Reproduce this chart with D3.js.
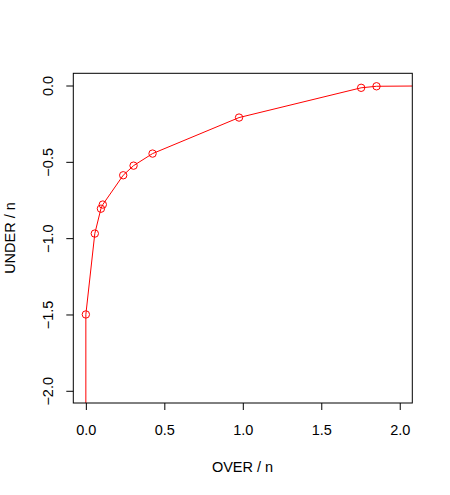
<!DOCTYPE html>
<html>
<head>
<meta charset="utf-8">
<script src="https://cdn.jsdelivr.net/npm/d3@7"></script>
<style>
  body { margin: 0; background: #fff; }
  text { font-family: "Liberation Sans", Arial, sans-serif; font-size: 14.5px; fill: #000; }
</style>
</head>
<body>
<svg width="450" height="495"></svg>
<script>
// **** data ****
var overVals  = [0.0, 0.0, 0.057, 0.096, 0.108, 0.238, 0.304, 0.425, 0.976, 1.754, 1.852, 2.6];
var underVals = [-2.6, -1.50, -0.97, -0.807, -0.78, -0.588, -0.525, -0.446, -0.21, -0.015, -0.005, 0.0];
var xTicks = [0, 0.5, 1, 1.5, 2];
var yTicks = [0, -0.5, -1, -1.5, -2];

var dataset = overVals.map(function(d, i) { return {over: d, under: underVals[i]}; });

var svg = d3.select('svg');
var plotL = 73.3, plotR = 412.3, plotT = 73.3, plotB = 403;

// R style: range extended by 4%
var xScale = d3.scaleLinear().domain([-0.08, 2.08]).range([plotL, plotR]);
var yScale = d3.scaleLinear().domain([-2.08, 0.08]).range([plotB, plotT]);

svg.append('clipPath').attr('id', 'clip')
  .append('rect')
  .attr('x', plotL).attr('y', plotT)
  .attr('width', plotR - plotL).attr('height', plotB - plotT);

var plotG = svg.append('g').attr('clip-path', 'url(#clip)');

var line = d3.line()
  .x(function(d) { return xScale(d.over); })
  .y(function(d) { return yScale(d.under); });

plotG.append('path')
  .datum(dataset)
  .attr('d', line)
  .attr('fill', 'none')
  .attr('stroke', '#ff0000')
  .attr('stroke-width', 1);

plotG.selectAll('.pt')
  .data(dataset)
  .enter()
  .append('circle')
  .attr('class', 'pt')
  .attr('cx', function(d) { return xScale(d.over); })
  .attr('cy', function(d) { return yScale(d.under); })
  .attr('r', 3.7)
  .attr('fill', 'none')
  .attr('stroke', '#ff0000')
  .attr('stroke-width', 1);

// box
svg.append('rect')
  .attr('x', plotL).attr('y', plotT)
  .attr('width', plotR - plotL).attr('height', plotB - plotT)
  .attr('fill', 'none').attr('stroke', '#000').attr('stroke-width', 1);

// axes
var xAxis = svg.append('g')
  .attr('transform', 'translate(0,' + plotB + ')')
  .call(d3.axisBottom(xScale).tickValues(xTicks).tickSize(7).tickPadding(15)
    .tickFormat(d3.format('.1f')));
xAxis.select('.domain').remove();
xAxis.selectAll('text').style('font-family', '"Liberation Sans", Arial, sans-serif').style('font-size', '14.5px');

var yAxis = svg.append('g')
  .attr('transform', 'translate(' + plotL + ',0)')
  .call(d3.axisLeft(yScale).tickValues(yTicks).tickSize(7)
    .tickFormat(d3.format('.1f')));
yAxis.select('.domain').remove();
yAxis.selectAll('text')
  .style('font-family', '"Liberation Sans", Arial, sans-serif').style('font-size', '14.5px')
  .attr('text-anchor', 'middle')
  .attr('x', 0).attr('y', 0).attr('dy', 0)
  .attr('transform', 'translate(-20.6,0) rotate(-90)');

// axis titles
svg.append('text')
  .attr('text-anchor', 'middle')
  .attr('transform', 'translate(242.5,472)')
  .text('OVER / n');

svg.append('text')
  .attr('text-anchor', 'middle')
  .attr('transform', 'translate(15,238) rotate(-90)')
  .text('UNDER / n');
</script>
</body>
</html>
